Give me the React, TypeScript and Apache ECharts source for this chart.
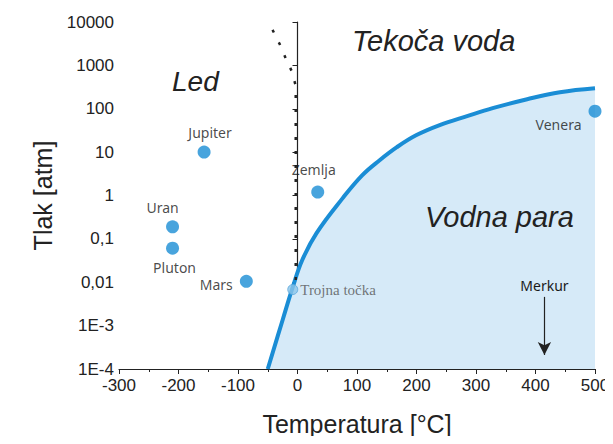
import React, { useEffect, useRef } from "react";
import * as echarts from "echarts";

const xTicks = [-300, -200, -100, 0, 100, 200, 300, 400, 500];
const yTickLabels: Record<string, string> = {
  "10000": "10000", "1000": "1000", "100": "100", "10": "10", "1": "1",
  "0.1": "0,1", "0.01": "0,01", "0.001": "1E-3", "0.0001": "1E-4",
};

// vapour-pressure curve (temperature °C, pressure atm)
const curveT = [-50, -25, -8, 8, 32, 76, 109, 138, 167, 200, 239, 285, 328, 386, 441, 500];
const curveP = [0.0001, 0.00135, 0.0077, 0.0325, 0.136, 0.87, 2.95, 6.5, 13, 24.7, 42, 67.5, 103, 166, 241, 298];

// melting line (dotted)
const meltT = [-42, -30, -20, -10, -3, -3];
const meltP = [6600, 3100, 1480, 750, 340, 0.0085];

const planetNames = ["Jupiter", "Uran", "Pluton", "Mars", "Zemlja", "Venera"];
const planetT = [-157, -210, -210, -86, 34, 500];
const planetP = [10, 0.19, 0.061, 0.0105, 1.2, 88];

const tripleT = -8;
const tripleP = 0.0068;

const merkurT = 415;
const merkurPTop = 0.0046;
const merkurPTip = 0.00021;

const regionLabels = [
  { text: "Led", x: 172, y: 67, size: 28 },
  { text: "Tekoča voda", x: 352, y: 26, size: 29 },
  { text: "Vodna para", x: 425, y: 202, size: 29 },
];

const labelFont = "'Noto Sans', 'DejaVu Sans', sans-serif";
const axisFont = "'Liberation Sans', Arial, sans-serif";

const labelCfg: Record<string, any> = {
  Jupiter: { position: "top", offset: [6, -1] },
  Uran: { position: "top", offset: [-10, -1] },
  Pluton: { position: "bottom", offset: [2, 1] },
  Mars: { position: "left", offset: [-2, 3] },
  Zemlja: { position: "top", offset: [-4, -4] },
  Venera: { position: "left", offset: [-2, 13] },
};

export default function App() {
  const ref = useRef<HTMLDivElement>(null);
  useEffect(() => {
    if (!ref.current) return;
    const chart = echarts.init(ref.current, undefined, { renderer: "svg" });
    const planets = planetNames.map((n, i) => ({
      value: [planetT[i], planetP[i]],
      name: n,
      label: {
        show: true,
        formatter: n,
        ...labelCfg[n],
        fontFamily: labelFont,
        fontSize: 14,
        color: "#1a1a1a",
      },
    }));
    chart.setOption({
      animation: false,
      grid: { left: 119, right: 18, top: 22, bottom: 75 },
      xAxis: {
        type: "value",
        min: -300,
        max: 500,
        interval: 100,
        splitLine: { show: false },
        axisLine: { onZero: false, lineStyle: { color: "#222", width: 1.2 } },
        axisTick: { length: 5, lineStyle: { color: "#222" } },
        minorTick: { show: true, splitNumber: 2, length: 3, lineStyle: { color: "#222" } },
        axisLabel: {
          fontSize: 17,
          color: "#222",
          fontFamily: axisFont,
          margin: 8,
          formatter: (v: number) => (xTicks.includes(v) ? String(v) : ""),
        },
        name: "Temperatura [°C]",
        nameLocation: "middle",
        nameGap: 42,
        nameTextStyle: { fontSize: 25, color: "#222", fontFamily: axisFont },
      },
      yAxis: {
        type: "log",
        logBase: 10,
        min: 0.0001,
        max: 10000,
        splitLine: { show: false },
        axisLine: { show: true, lineStyle: { color: "#222", width: 1.2 } },
        axisTick: { show: true, length: 5, lineStyle: { color: "#222" } },
        axisLabel: {
          fontSize: 17,
          color: "#222",
          fontFamily: axisFont,
          margin: 5,
          formatter: (v: number) => {
            const k = String(Number(v.toPrecision(3)));
            return yTickLabels[k] ?? k;
          },
        },
        name: "Tlak [atm]",
        nameLocation: "middle",
        nameGap: 64,
        nameRotate: 90,
        nameTextStyle: { fontSize: 25, color: "#222", fontFamily: axisFont },
      },
      graphic: regionLabels.map((r) => ({
        type: "text",
        left: r.x,
        top: r.y,
        z: 100,
        style: {
          text: r.text,
          font: `italic ${r.size}px 'Liberation Sans', Arial, sans-serif`,
          fill: "#222",
        },
      })),
      series: [
        {
          type: "line",
          data: curveT.map((t, i) => [t, curveP[i]]),
          smooth: 0.4,
          symbol: "none",
          lineStyle: { color: "#1a8dd5", width: 4 },
          areaStyle: { color: "#d6eaf8", opacity: 1, origin: "start" },
          z: 2,
        },
        {
          type: "line",
          data: meltT.map((t, i) => [t, meltP[i]]),
          symbol: "none",
          lineStyle: { color: "#222", width: 2.5, type: [3, 11] },
          z: 3,
        },
        {
          type: "scatter",
          data: planets,
          symbolSize: 13,
          itemStyle: { color: "#1a8dd5" },
          z: 5,
          markLine: {
            silent: true,
            symbol: ["none", "arrow"],
            symbolSize: [10, 13],
            lineStyle: { color: "#222", width: 1.2, type: "solid" },
            label: {
              show: true,
              position: "start",
              formatter: "Merkur",
              fontFamily: labelFont,
              fontSize: 14,
              color: "#1a1a1a",
              distance: 4,
            },
            data: [[{ coord: [merkurT, merkurPTop] }, { coord: [merkurT, merkurPTip] }]],
          },
        },
        {
          type: "scatter",
          data: [[tripleT, tripleP]],
          symbolSize: 10,
          itemStyle: { color: "#8cc5ea", borderColor: "#5aa8dc", borderWidth: 1 },
          label: {
            show: true,
            position: "right",
            formatter: "Trojna točka",
            fontFamily: "'Liberation Serif', 'Times New Roman', serif",
            fontSize: 15,
            color: "#555",
            distance: 2,
          },
          z: 6,
        },
      ],
    });
    return () => chart.dispose();
  }, []);
  return <div ref={ref} style={{ width: 613, height: 444, margin: -8 }} />;
}
